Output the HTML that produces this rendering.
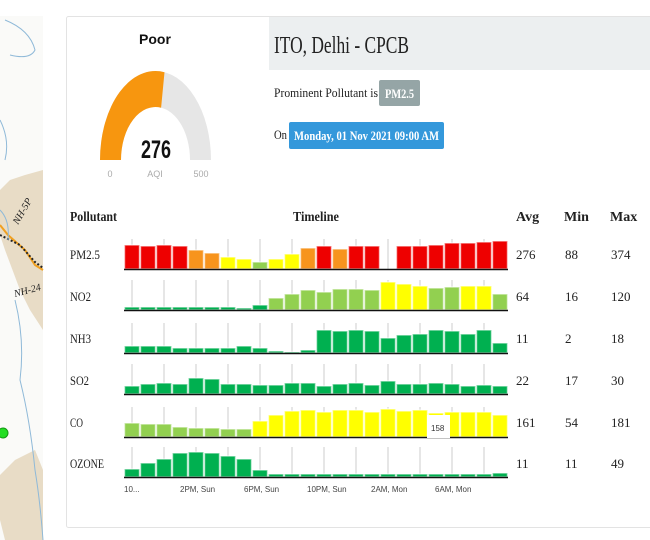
<!DOCTYPE html>
<html><head><meta charset="utf-8"><style>
html,body{margin:0;padding:0;background:#fff;width:650px;height:540px;overflow:hidden}
svg{display:block}
.s{font-family:"Liberation Serif",serif;fill:#222}
.a{font-family:"Liberation Sans",sans-serif}
</style></head><body>
<svg id="sv" width="650" height="540" xmlns="http://www.w3.org/2000/svg">
<!-- map strip -->
<rect x="0" y="0" width="43" height="540" fill="#fafaf8"/>
<rect x="0" y="0" width="43" height="16" fill="#fff"/>
<path d="M10,180 L25,175 L43,170 L43,330 L30,310 L20,290 L5,250 L0,235 L0,190 Z" fill="#e8dcc6"/>
<path d="M15,460 L35,450 L43,470 L43,540 L5,540 L0,520 L0,475 Z" fill="#e8dcc6"/>
<path d="M0,225 L8,235 L25,250 L35,265 L43,270" stroke="#f0a020" stroke-width="2" fill="none"/>
<path d="M0,235 L20,245 L35,262 L43,268" stroke="#222" stroke-width="2" stroke-dasharray="2,2" fill="none"/>
<path d="M5,20 Q30,30 35,50 Q30,60 10,55 M0,120 Q10,140 5,160 M0,210 Q10,220 8,240 M15,300 Q25,340 20,380 Q30,420 35,470 Q40,500 43,540" stroke="#8fb9d8" stroke-width="1" fill="none"/>
<text x="18" y="225" class="s" font-size="10" font-style="italic" transform="rotate(-60 18 225)">NH-5P</text>
<text x="15" y="297" class="s" font-size="10" font-style="italic" transform="rotate(-15 15 297)">NH-24</text>
<circle cx="3" cy="433" r="5" fill="#22dd22" stroke="#119911"/>
<!-- card -->
<rect x="66.5" y="16.5" width="600" height="511" fill="#fff" stroke="#e3e3e3" rx="2"/>
<rect x="269" y="17" width="381" height="53" fill="#eceff0"/>
<text x="274" y="53" class="s" font-size="24" textLength="135" lengthAdjust="spacingAndGlyphs">ITO, Delhi - CPCB</text>
<text x="274" y="97" class="s" font-size="13" textLength="104" lengthAdjust="spacingAndGlyphs">Prominent Pollutant is</text>
<rect x="379" y="80" width="41" height="26" rx="2" fill="#95a5a6"/>
<text x="385" y="98" class="s" font-size="13" font-weight="bold" fill="#fff" style="fill:#fff" textLength="29" lengthAdjust="spacingAndGlyphs">PM2.5</text>
<text x="274" y="139" class="s" font-size="13" textLength="13" lengthAdjust="spacingAndGlyphs">On</text>
<rect x="289" y="122" width="155" height="27" rx="2" fill="#3498db"/>
<text x="294" y="140" class="s" font-size="13" font-weight="bold" style="fill:#fff" textLength="145" lengthAdjust="spacingAndGlyphs">Monday, 01 Nov 2021 09:00 AM</text>
<!-- gauge -->
<text x="155" y="44" class="a" font-size="14" font-weight="bold" text-anchor="middle" fill="#111">Poor</text>
<path d="M100,160 A55.5,89 0 0 1 211,160 L190,160 A34.5,53 0 0 0 121,160 Z" fill="#e6e6e6"/>
<path d="M100,160 A55.5,89 0 0 1 164.5,72.2 L161.1,107.7 A34.5,53 0 0 0 121,160 Z" fill="#f7960f"/>
<text x="156" y="158" class="a" font-size="25" font-weight="bold" text-anchor="middle" fill="#111" textLength="30" lengthAdjust="spacingAndGlyphs">276</text>
<text x="110" y="177" class="a" font-size="9" text-anchor="middle" fill="#aaa">0</text>
<text x="155" y="177" class="a" font-size="9" text-anchor="middle" fill="#aaa">AQI</text>
<text x="201" y="177" class="a" font-size="9" text-anchor="middle" fill="#aaa">500</text>
<!-- table headers -->
<g class="s" font-size="14" font-weight="bold">
<text x="70" y="221" class="s" textLength="47" lengthAdjust="spacingAndGlyphs">Pollutant</text>
<text x="293" y="221" class="s" textLength="46" lengthAdjust="spacingAndGlyphs">Timeline</text>
<text x="516" y="221" class="s">Avg</text>
<text x="564" y="221" class="s">Min</text>
<text x="610" y="221" class="s">Max</text>
</g>
<g font-size="13">
<text x="70" y="259" class="s" textLength="30" lengthAdjust="spacingAndGlyphs">PM2.5</text>
<text x="70" y="301" class="s" textLength="21" lengthAdjust="spacingAndGlyphs">NO2</text>
<text x="70" y="343" class="s" textLength="21" lengthAdjust="spacingAndGlyphs">NH3</text>
<text x="70" y="385" class="s" textLength="19" lengthAdjust="spacingAndGlyphs">SO2</text>
<text x="70" y="427" class="s" textLength="13" lengthAdjust="spacingAndGlyphs">CO</text>
<text x="70" y="468" class="s" textLength="34" lengthAdjust="spacingAndGlyphs">OZONE</text>
<text x="516" y="259" class="s">276</text><text x="565" y="259" class="s">88</text><text x="611" y="259" class="s">374</text>
<text x="516" y="301" class="s">64</text><text x="565" y="301" class="s">16</text><text x="611" y="301" class="s">120</text>
<text x="516" y="343" class="s">11</text><text x="565" y="343" class="s">2</text><text x="611" y="343" class="s">18</text>
<text x="516" y="385" class="s">22</text><text x="565" y="385" class="s">17</text><text x="611" y="385" class="s">30</text>
<text x="516" y="427" class="s">161</text><text x="565" y="427" class="s">54</text><text x="611" y="427" class="s">181</text>
<text x="516" y="468" class="s">11</text><text x="565" y="468" class="s">11</text><text x="611" y="468" class="s">49</text>
</g>
<g class="a" font-size="8" fill="#444">
<text x="124" y="492">10...</text>
<text x="180" y="492">2PM, Sun</text>
<text x="244" y="492">6PM, Sun</text>
<text x="307" y="492">10PM, Sun</text>
<text x="371" y="492">2AM, Mon</text>
<text x="435" y="492">6AM, Mon</text>
</g>
<g id="bars"></g>
</svg>
<script>
var R='#ee0000',O='#f7941d',Y='#ffff00',L='#92d050',G='#00b050';
var rows=[
[269,[24,23,24,23,19,16,12,10,7,10,15,21,23,20,23,23,0,23,23,24,26,26,27,28],[R,R,R,R,O,O,Y,Y,L,Y,Y,O,R,O,R,R,R,R,R,R,R,R,R,R]],
[310,[3,3,3,3,3,3,3,2,5,12,16,20,18,21,21,20,28,26,24,22,23,24,24,16],[G,G,G,G,G,G,G,G,G,L,L,L,L,L,L,L,Y,Y,Y,L,L,Y,Y,L]],
[353,[7,7,7,5,5,5,5,7,5,2,1,3,23,22,23,22,15,18,19,23,22,19,23,10],null],
[394,[8,10,11,10,16,15,10,10,9,9,11,11,8,10,11,9,13,10,10,11,10,8,9,8],null],
[437,[14,13,13,10,9,9,8,8,16,22,26,27,25,27,27,25,28,26,27,24,25,25,25,22],[L,L,L,L,L,L,L,L,Y,Y,Y,Y,Y,Y,Y,Y,Y,Y,Y,Y,Y,Y,Y,Y]],
[477,[8,14,18,24,25,24,21,18,7,3,3,3,3,3,3,3,3,3,3,3,3,3,3,4],null]];
var s='';
rows.forEach(function(r){var b=r[0];
for(var k=0;k<12;k++){var x=132+32*k;s+='<line x1="'+x+'" y1="'+(b-30)+'" x2="'+x+'" y2="'+b+'" stroke="#ccc" stroke-width="1"/>';}
r[1].forEach(function(h,i){if(!h)return;var c=r[2]?r[2][i]:G;var x=124.5+16*i;
s+='<rect x="'+x+'" y="'+(b-h)+'" width="15" height="'+h+'" fill="'+c+'" stroke="rgba(255,255,255,0.55)" stroke-width="1.5"/>';});
s+='<line x1="124" y1="'+(b+0.5)+'" x2="508" y2="'+(b+0.5)+'" stroke="#111" stroke-width="1.5"/>';});
s+='<rect x="427" y="415" width="23" height="23" fill="#fff"/><text x="431" y="431" font-family="Liberation Sans,sans-serif" font-size="8" fill="#333">158</text>';
document.getElementById('bars').innerHTML=s;
</script>
</body></html>
